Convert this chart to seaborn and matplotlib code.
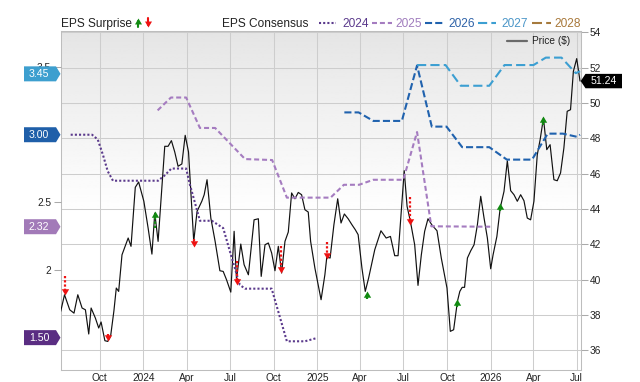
import numpy as np
import pandas as pd
import matplotlib
matplotlib.use("Agg")
import matplotlib.pyplot as plt
from matplotlib.patches import Polygon
from matplotlib.lines import Line2D
from matplotlib.path import Path
from matplotlib.ticker import FuncFormatter
import seaborn as sns

# ---------------- data ----------------
price_dates = [
    '2023-07-11', '2023-07-19', '2023-07-30', '2023-08-08', '2023-08-16', '2023-08-25', '2023-09-01',
    '2023-09-08', '2023-09-13', '2023-09-22', '2023-09-29',
    '2023-10-04', '2023-10-12', '2023-10-18', '2023-10-24', '2023-10-31', '2023-11-05', '2023-11-10',
    '2023-11-17', '2023-11-30', '2023-12-06', '2023-12-15', '2023-12-22',
    '2024-01-02', '2024-01-11', '2024-01-19', '2024-01-25', '2024-02-01', '2024-02-15', '2024-02-22',
    '2024-02-29', '2024-03-07', '2024-03-14', '2024-03-22', '2024-03-29', '2024-04-05', '2024-04-16',
    '2024-04-23', '2024-05-03', '2024-05-08', '2024-05-14', '2024-05-22', '2024-05-31', '2024-06-10',
    '2024-06-17', '2024-06-24', '2024-07-03', '2024-07-10', '2024-07-15', '2024-07-24', '2024-07-31',
    '2024-08-09', '2024-08-21', '2024-08-30', '2024-09-05', '2024-09-13', '2024-09-20', '2024-09-27',
    '2024-10-04', '2024-10-11', '2024-10-18', '2024-10-25', '2024-11-01', '2024-11-08', '2024-11-15',
    '2024-11-22', '2024-11-29', '2024-12-06', '2024-12-13', '2024-12-18', '2024-12-27',
    '2025-01-09', '2025-01-17', '2025-01-21', '2025-01-28', '2025-02-05', '2025-02-13', '2025-02-20',
    '2025-02-27', '2025-03-07', '2025-03-15', '2025-03-22', '2025-03-28', '2025-04-05', '2025-04-12',
    '2025-04-19', '2025-05-02', '2025-05-15', '2025-05-26', '2025-06-04', '2025-06-13', '2025-06-20',
    '2025-06-27', '2025-07-03', '2025-07-09', '2025-07-16', '2025-07-25', '2025-08-01', '2025-08-08',
    '2025-08-15', '2025-08-22', '2025-08-30', '2025-09-10', '2025-09-19', '2025-10-01', '2025-10-08',
    '2025-10-15', '2025-10-23', '2025-10-28', '2025-11-02', '2025-11-07', '2025-11-13', '2025-11-20',
    '2025-11-27', '2025-12-04', '2025-12-11', '2025-12-18', '2025-12-25',
    '2026-01-01', '2026-01-06', '2026-01-14', '2026-01-21', '2026-01-29', '2026-02-05', '2026-02-12',
    '2026-02-19', '2026-02-26', '2026-03-05', '2026-03-12', '2026-03-19', '2026-03-26', '2026-04-02',
    '2026-04-09', '2026-04-15', '2026-04-22', '2026-04-29', '2026-05-06', '2026-05-14', '2026-05-21',
    '2026-05-28', '2026-06-04', '2026-06-11', '2026-06-18', '2026-06-24', '2026-07-01', '2026-07-08',
]
price_values = [
    38.21, 39.15, 38.30, 38.11, 39.15, 38.40, 38.30, 36.93, 38.40, 37.83, 37.27,
    37.61, 36.55, 36.51, 36.80, 38.24, 39.53, 39.34, 41.41, 42.36, 41.89, 45.23, 45.53,
    44.44, 42.92, 41.45, 43.77, 42.17, 47.55, 47.55, 47.87, 47.23, 46.42, 46.55, 48.17, 47.23, 42.17,
    43.87, 44.44, 44.81, 45.66, 43.49, 42.17, 40.51, 40.47, 40.00, 39.30, 42.74, 40.00, 42.02, 40.85,
    40.28, 43.39, 43.45, 40.19, 41.98, 42.08, 41.51, 40.51, 41.89, 40.38, 42.17, 42.70, 44.91, 44.58,
    44.94, 44.81, 43.96, 43.83, 42.17, 40.66,
    38.87, 40.28, 41.27, 41.23, 43.11, 44.58, 43.21, 43.72, 43.45, 43.11, 42.83, 42.55, 40.66, 39.34,
    40.09, 41.70, 42.77, 42.36, 42.45, 41.36, 41.36, 43.96, 46.17, 44.15, 43.30, 41.98, 39.68, 41.41,
    42.74, 43.45, 43.11, 42.77, 41.23, 39.53, 37.08, 37.17, 38.78, 39.34, 39.57, 39.57, 41.23, 41.64,
    41.98, 43.11, 44.72, 43.49, 42.36,
    40.62, 41.41, 42.45, 44.06, 45.00, 46.73, 45.04, 44.81, 44.44, 44.81, 44.47, 43.49, 43.39, 44.44,
    47.07, 47.92, 49.15, 47.36, 47.64, 45.66, 45.60, 46.04, 47.45, 49.53, 49.62, 51.79, 52.51, 51.24,
]
last_price = 51.24

eps2024_dates = ['2023-08-01', '2023-09-15', '2023-09-27', '2023-10-08', '2023-10-18', '2023-10-29',
                 '2024-02-01', '2024-02-15', '2024-02-29', '2024-03-31', '2024-04-08', '2024-04-29',
                 '2024-05-24', '2024-06-17', '2024-07-05', '2024-07-22', '2024-08-02', '2024-09-27',
                 '2024-10-29', '2024-12-06', '2024-12-31']
eps2024_values = [3.00, 3.00, 2.965, 2.85, 2.73, 2.66, 2.66, 2.70, 2.75, 2.75, 2.63, 2.364,
                  2.364, 2.31, 2.09, 1.89, 1.862, 1.862, 1.473, 1.473, 1.497]

eps2025_dates = ['2024-01-31', '2024-02-28', '2024-03-31', '2024-04-29', '2024-05-31', '2024-08-02',
                 '2024-09-28', '2024-10-29', '2025-01-29', '2025-02-26', '2025-03-30', '2025-04-29',
                 '2025-07-01', '2025-07-30', '2025-08-29', '2025-12-31']
eps2025_values = [3.18, 3.275, 3.275, 3.05, 3.05, 2.82, 2.813, 2.535, 2.535, 2.63, 2.63, 2.667,
                  2.667, 3.02, 2.323, 2.32]

eps2026_dates = ['2025-02-27', '2025-03-29', '2025-04-29', '2025-06-28', '2025-07-30', '2025-08-30',
                 '2025-09-30', '2025-11-02', '2025-12-29', '2026-02-04', '2026-03-29', '2026-05-01',
                 '2026-06-02', '2026-07-01', '2026-07-08']
eps2026_values = [3.165, 3.165, 3.102, 3.102, 3.512, 3.06, 3.06, 2.908, 2.908, 2.816, 2.816, 3.008,
                  3.008, 2.985, 3.00]

eps2027_dates = ['2025-07-30', '2025-09-28', '2025-10-30', '2025-12-29', '2026-01-30', '2026-04-01',
                 '2026-04-27', '2026-05-30', '2026-06-29', '2026-07-08']
eps2027_values = [3.515, 3.515, 3.362, 3.362, 3.515, 3.515, 3.57, 3.57, 3.455, 3.47]

eps2028_dates = []
eps2028_values = []

eps_years = ['2024', '2025', '2026', '2027', '2028']
current_consensus = [1.50, 2.32, 3.00, 3.45, None]

surprise_dates = ['2023-07-19', '2023-10-18', '2024-01-25', '2024-04-16', '2024-07-17', '2024-10-16',
                  '2025-01-21', '2025-04-16', '2025-07-16', '2025-10-22', '2026-01-21', '2026-04-22']
surprise_price = [39.15, 36.53, 43.90, 41.85, 39.72, 40.38, 41.19, 39.34, 43.08, 38.92, 44.34, 49.25]
surprise_size = [1.07, 0.40, 0.96, 0.45, 1.36, 1.53, 0.96, 0.42, 1.58, 0.45, 0.45, 0.47]
surprise_dir = ['down', 'down', 'up', 'down', 'down', 'down', 'down', 'up', 'down', 'up', 'up', 'up']

xtick_dates = ['2023-10-01', '2024-01-01', '2024-04-01', '2024-07-01', '2024-10-01', '2025-01-01',
               '2025-04-01', '2025-07-01', '2025-10-01', '2026-01-01', '2026-04-01', '2026-07-01']
xtick_labels = ['Oct', '2024', 'Apr', 'Jul', 'Oct', '2025', 'Apr', 'Jul', 'Oct', '2026', 'Apr', 'Jul']
price_ticks = [36, 38, 40, 42, 44, 46, 48, 50, 52, 54]
eps_ticks = [2, 2.5, 3.5]

# ---------------- style ----------------
line_colors = {'2024': '#5b3a8c', '2025': '#a57cc0', '2026': '#2062ae', '2027': '#3c9fd2', '2028': '#a67a3d'}
text_colors = {'2024': '#5b3a8c', '2025': '#a07cbd', '2026': '#2e62a8', '2027': '#4b96c8', '2028': '#a8783a'}
tag_colors = {'2024': '#5a2d82', '2025': '#a27ab8', '2026': '#1f5fa9', '2027': '#3d9fcf'}
line_styles = {'2024': (0, (1, 1)), '2025': (0, (2.4, 1.4)), '2026': (0, (3.4, 1.5)),
               '2027': (0, (4.4, 2.0)), '2028': (0, (4.8, 2.0))}
RED = '#ee1111'
GREEN = '#118a11'

sns.set_theme(style='white')
plt.rcParams['font.family'] = ['Liberation Sans', 'DejaVu Sans']

W, H = 640, 382
fig = plt.figure(figsize=(W / 100, H / 100), dpi=100)
L, R, T, B = 60.7, 580.7, 30.7, 369.7
rect = [L / W, 1 - B / H, (R - L) / W, (B - T) / H]

# gradient background
bg = fig.add_axes(rect, zorder=-1)
t = np.linspace(0, 1, 256)
g = 0.895 + (1 - 0.895) * np.clip(t / 0.55, 0, 1) ** 0.9
bg.imshow(g[:, None], aspect='auto', cmap='gray', vmin=0, vmax=1, extent=[0, 1, 0, 1])
bg.set_axis_off()

ax = fig.add_axes(rect)
ax.patch.set_visible(False)

df_price = pd.DataFrame({'date': pd.to_datetime(price_dates), 'price': price_values})
sns.lineplot(data=df_price, x='date', y='price', ax=ax, color='#111111', linewidth=0.85,
             legend=False, zorder=3)

ax_e = ax.twinx()
ax_s = ax.twinx()

x0 = pd.Timestamp('2023-07-11')
x1 = pd.Timestamp('2026-07-09 10:00')
ax.set_xlim(x0, x1)
ax.set_ylim(34.91, 54.09)
ax_s.set_ylim(34.91, 54.09)
ax_e.set_ylim(1.263, 3.769)

eps_data = {'2024': (eps2024_dates, eps2024_values), '2025': (eps2025_dates, eps2025_values),
            '2026': (eps2026_dates, eps2026_values), '2027': (eps2027_dates, eps2027_values),
            '2028': (eps2028_dates, eps2028_values)}
for yr in eps_years:
    d, v = eps_data[yr]
    if len(d) == 0:
        continue
    dfe = pd.DataFrame({'date': pd.to_datetime(d), 'eps': v})
    sns.lineplot(data=dfe, x='date', y='eps', ax=ax_e, color=line_colors[yr], linewidth=1.5,
                 linestyle=line_styles[yr], legend=False)

# surprise arrows
def tri_marker(direction):
    if direction == 'down':
        verts = [(-1, 1.7), (1, 1.7), (0, 0), (-1, 1.7)]
    else:
        verts = [(-1, -1.7), (1, -1.7), (0, 0), (-1, -1.7)]
    return Path(verts, [Path.MOVETO, Path.LINETO, Path.LINETO, Path.CLOSEPOLY])

for d, p, s, dr in zip(surprise_dates, surprise_price, surprise_size, surprise_dir):
    dt = pd.Timestamp(d)
    col = RED if dr == 'down' else GREEN
    sgn = 1 if dr == 'down' else -1
    ax_s.plot([dt, dt], [p + sgn * s, p + sgn * 0.2], color=col, linewidth=1.6,
              linestyle=(0, (1, 0.9)), solid_capstyle='butt', zorder=5)
    ax_s.plot([dt], [p], marker=tri_marker(dr), markersize=9, color=col,
              markeredgewidth=0, linestyle='none', zorder=6)

# axes cosmetics
for a in (ax, ax_e, ax_s):
    a.set_xlabel('')
    a.set_ylabel('')
ax_s.set_axis_off()
ax.yaxis.tick_right()
ax_e.yaxis.tick_left()

ax.set_xticks(pd.to_datetime(xtick_dates))
ax.set_xticklabels(xtick_labels)
ax.set_yticks(price_ticks)
ax.set_yticklabels([str(v) for v in price_ticks])
ax.tick_params(axis='x', length=0, pad=2.5, labelsize=7.3, labelcolor='#222222')
ax.tick_params(axis='y', length=5, width=0.75, color='#aaaaaa', pad=1.5, labelsize=7.3,
               labelcolor='#222222', right=True, left=False)
ax_e.set_yticks(eps_ticks)
ax_e.yaxis.set_major_formatter(FuncFormatter(lambda v, p: f'{v:g}'))
ax_e.tick_params(axis='y', length=5, width=0.75, color='#aaaaaa', pad=2, labelsize=7.3,
                 labelcolor='#222222', left=True, right=False)
ax.grid(True, color='#cdcdcd', linewidth=0.75)
ax.set_axisbelow(True)
ax_e.grid(False)
for s in ax.spines.values():
    s.set_color('#bdbdbd')
    s.set_linewidth(0.75)
for s in ax_e.spines.values():
    s.set_visible(False)

# ---------------- helper: pixel -> figure coords ----------------
def fx(x):
    return x / W

def fy(y):
    return 1 - y / H

def img_y(axis, value):
    disp = axis.transData.transform((0, value))
    return H - disp[1]

# left tags with current consensus
for yr, val in zip(eps_years, current_consensus):
    if val is None:
        continue
    yy = img_y(ax_e, val)
    hh = 7.5
    verts = [(24, yy - hh), (56, yy - hh), (60.5, yy), (56, yy + hh), (24, yy + hh)]
    poly = Polygon([(fx(a), fy(b)) for a, b in verts], closed=True, transform=fig.transFigure,
                   facecolor=tag_colors[yr], edgecolor='none', zorder=10)
    fig.add_artist(poly)
    fig.text(fx(39), fy(yy), f'{val:.2f}', color='white', fontsize=7.6, ha='center',
             va='center', zorder=11)

# price tag on the right
yy = img_y(ax, last_price)
hh = 7.2
verts = [(580.7, yy), (585.5, yy - hh), (622, yy - hh), (622, yy + hh), (585.5, yy + hh)]
fig.add_artist(Polygon([(fx(a), fy(b)) for a, b in verts], closed=True, transform=fig.transFigure,
                       facecolor='black', edgecolor='none', zorder=10))
fig.text(fx(603.5), fy(yy), f'{last_price:.2f}', color='white', fontsize=7.6, ha='center',
         va='center', zorder=11)

# ---------------- top legend ----------------
base = 27.3
fig.text(fx(60.7), fy(base), 'EPS Surprise', fontsize=8.6, color='#222222', ha='left', va='baseline')
# green up arrow
fig.add_artist(Line2D([fx(137.7), fx(137.7)], [fy(27.3), fy(21)], transform=fig.transFigure,
                      color=GREEN, linewidth=1.5))
fig.add_artist(Line2D([fx(137.7)], [fy(18.3)], transform=fig.transFigure, marker=tri_marker('up'),
                      markersize=8.6, color=GREEN, markeredgewidth=0, linestyle='none'))
# red down arrow
fig.add_artist(Line2D([fx(147.7), fx(147.7)], [fy(18.3), fy(24.5)], transform=fig.transFigure,
                      color=RED, linewidth=1.5))
fig.add_artist(Line2D([fx(147.7)], [fy(27.3)], transform=fig.transFigure, marker=tri_marker('down'),
                      markersize=8.6, color=RED, markeredgewidth=0, linestyle='none'))

fig.text(fx(221.7), fy(base), 'EPS Consensus', fontsize=8.6, color='#222222', ha='left', va='baseline')
legend_pos = {'2024': (319, 336, 342.3), '2025': (372.3, 392, 395), '2026': (425, 445, 448.3),
              '2027': (478.3, 496, 501.7), '2028': (531.7, 551, 554)}
for yr in eps_years:
    a, b, tx = legend_pos[yr]
    fig.add_artist(Line2D([fx(a), fx(b)], [fy(22.7), fy(22.7)], transform=fig.transFigure,
                          color=line_colors[yr], linewidth=1.5, linestyle=line_styles[yr]))
    fig.text(fx(tx), fy(base), yr, fontsize=8.6, color=text_colors[yr], ha='left', va='baseline')

# price legend inside plot
fig.add_artist(Line2D([fx(507.3), fx(526.7)], [fy(41.3), fy(41.3)], transform=fig.transFigure,
                      color='#6a6a6a', linewidth=1.6))
fig.text(fx(532.3), fy(41.3), 'Price ($)', fontsize=7.3, color='#222222', ha='left', va='center')

fig.savefig('out.png', dpi=100)
